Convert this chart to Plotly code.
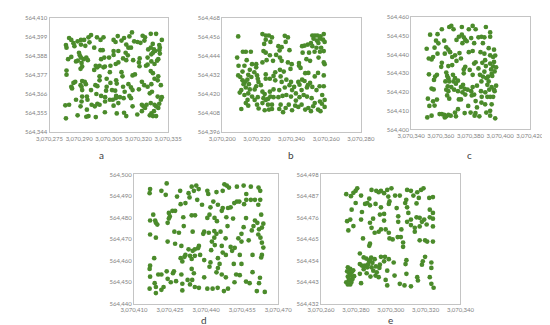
import plotly.graph_objects as go

# Coordinates are stored as offsets from these bases (easting, northing)
X_BASE = 3070000
Y_BASE = 564000

# ---------------- panel a ----------------
a_pts = [(284.9,398.4),(286.0,397.3),(290.9,397.3),(292.5,397.3),(294.7,398.8),(296.0,400.1),(299.0,398.8),(302.3,398.8),(300.8,397.3),(307.4,397.3),(308.4,396.1),(309.5,399.5),(312.7,398.4),(315.4,399.3),(316.7,401.6),(322.1,399.7),(323.3,398.8),(326.2,400.8),(328.9,400.8),(331.8,397.3),(319.5,396.1),(321.0,395.6),(317.8,396.5),(323.0,396.9),
(283.3,394.3),(283.6,392.8),(287.1,395.4),(287.6,393.7),(289.2,396.5),(290.9,394.6),(293.1,393.9),(295.2,395.9),(297.6,392.8),(311.4,396.9),(309.8,390.9),(307.4,390.9),(313.8,394.6),(314.9,392.8),(316.2,392.8),(327.2,395.0),(326.2,392.8),(330.5,394.3),(330.8,392.8),(324.9,391.8),(327.8,391.8),(330.5,391.4),(300.8,391.4),(301.9,391.4),
(284.4,386.2),(286.0,387.5),(288.4,384.9),(289.3,385.3),(289.9,389.9),(290.3,388.4),(290.9,387.1),(291.2,384.0),(293.6,387.1),(294.4,385.6),(292.3,386.2),(302.7,387.1),(301.1,386.2),(305.1,387.1),(307.4,388.6),(308.5,383.4),(309.8,384.3),(312.2,386.6),(313.5,389.9),(314.6,388.4),(313.8,385.6),(317.3,385.6),(320.6,386.6),(320.2,384.3),(324.6,387.1),(326.5,389.0),(327.3,389.9),(328.4,390.9),(330.8,389.4),(329.4,385.3),(328.1,383.4),(326.5,384.9),(323.8,382.4),(298.4,382.4),(300.3,382.4),(302.3,381.5),
(283.6,379.6),(283.6,377.2),(290.7,380.6),(291.5,381.9),(297.6,380.0),(299.2,381.5),(303.0,381.9),(305.8,382.4),(311.4,378.7),(311.9,376.3),(317.0,376.8),(318.2,377.4),(320.5,382.1),(324.6,383.0),(326.2,379.3),(327.3,378.1),(330.0,386.2),(330.0,376.3),(328.1,374.9),(329.7,374.0),(300.3,376.3),(300.3,374.0),(303.9,374.9),(305.5,378.7),(308.7,374.0),
(286.0,370.3),(286.4,369.3),(287.1,372.5),(288.0,373.1),(290.7,371.2),(291.5,373.6),(291.2,370.3),(292.8,373.1),(293.4,371.8),(291.5,368.4),(296.0,368.4),(298.2,371.2),(299.2,370.6),(298.7,366.1),(303.9,370.3),(305.8,372.5),(309.0,372.1),(306.6,368.4),(308.2,368.0),(308.7,365.0),(303.6,368.0),(312.2,370.3),(313.0,367.4),(314.9,371.8),(316.2,369.9),(317.0,368.4),(320.2,368.8),(321.7,373.1),(322.9,371.2),(324.6,370.3),(326.5,371.8),(326.8,367.4),(331.3,371.2),(331.8,364.3),(329.7,364.6),(325.7,366.5),(315.4,365.0),(310.6,364.3),(303.1,364.3),(301.1,365.0),(293.9,364.6),(291.5,364.6),(288.4,362.8),(291.2,361.8),(294.2,362.8),
(283.0,359.6),(284.9,359.9),(290.7,359.0),(293.9,357.1),(296.3,359.9),(299.2,360.5),(300.3,359.9),(297.9,359.0),(303.1,361.8),(305.5,362.8),(307.0,362.8),(308.5,363.7),(309.8,360.9),(312.5,363.7),(316.2,363.7),(317.0,359.0),(307.4,359.4),(321.7,359.9),(322.5,359.0),(326.2,360.9),(324.1,359.9),(323.3,358.1),(328.1,359.9),(328.9,359.0),(330.0,358.1),(331.3,362.8),(330.5,360.5),(327.8,356.2),(326.5,354.9),(327.3,353.4),(328.9,353.4),(325.7,353.8),(321.7,356.2),(319.4,354.3),(313.8,353.4),(312.7,355.3),(309.0,354.9),(303.0,355.6),(294.7,353.4),(293.6,353.0),(298.4,352.8),(289.2,353.8),(283.3,352.1)]

# ---------------- panel b ----------------
b_pts = [(209.2,456.3),(223.2,457.8),(225.1,456.9),(226.9,456.9),(228.7,455.7),(225.1,454.3),(227.8,452.9),(224.2,451.6),(236.1,456.7),(237.9,455.7),(232.4,450.2),(234.3,449.6),(233.1,447.5),(236.6,452.9),(238.8,447.7),(246.1,450.2),(247.6,450.6),(249.4,451.2),(252.0,456.9),(253.5,456.9),(255.0,456.9),(256.7,456.3),(258.6,457.8),(252.7,454.9),(254.6,453.7),(256.4,454.9),(258.2,454.3),(259.1,452.9),(255.5,452.2),(251.2,452.2),(252.0,450.2),(254.4,449.2),(257.1,449.2),(258.6,447.1),(256.4,446.7),(253.3,446.7),(250.1,446.1),(246.4,446.1),
(211.9,446.7),(213.6,446.7),(216.5,446.7),(208.6,443.0),(214.1,441.4),(223.8,447.1),(225.1,446.1),(227.5,444.5),(231.1,444.7),(233.3,443.0),(223.2,440.0),(225.6,441.4),(229.3,441.0),(234.3,441.0),(237.9,440.0),(240.1,438.9),(244.3,439.6),(248.6,442.0),(250.7,441.0),(258.6,440.0),(259.1,438.9),(255.6,443.0),
(209.4,437.9),(212.8,437.9),(217.2,438.9),(219.6,438.9),(219.6,436.9),(215.9,435.3),(218.5,433.8),(225.1,432.4),(230.6,433.8),(233.3,435.3),(235.5,434.2),(239.4,435.9),(244.3,437.9),(245.2,436.5),(247.9,433.2),(249.7,433.4),(253.4,431.2),(255.3,433.4),(258.6,431.8),
(209.2,431.8),(210.4,430.8),(211.7,428.7),(213.1,427.7),(214.5,429.1),(212.3,426.3),(215.4,426.3),(213.6,424.2),(211.0,422.6),(210.1,421.0),(215.0,420.5),(212.8,419.5),(215.9,423.0),(220.1,431.8),(220.5,429.7),(220.9,427.7),(219.6,425.0),(218.7,423.0),(222.3,425.7),(225.1,429.7),(227.5,429.7),(229.6,431.5),(230.6,428.7),(233.7,431.2),(234.3,427.7),(237.0,429.1),(239.7,427.7),(238.8,425.7),(241.5,424.6),(236.1,424.2),(232.9,422.6),(229.6,423.0),(227.5,421.6),(224.5,420.1),(223.2,421.6),(243.9,427.7),(244.6,426.0),(246.1,429.1),(247.5,428.3),(249.4,425.7),(250.7,427.1),(252.0,424.6),(248.9,424.2),(254.4,422.6),(256.2,425.0),(258.6,425.0),(257.7,419.5),(259.1,416.4),(256.4,415.4),(253.4,414.4),(251.6,417.5),(248.9,418.5),(247.0,419.5),(244.6,418.1),(242.5,416.0),(239.7,418.5),(240.3,422.6),(237.0,419.5),(234.8,418.9),(232.4,418.1),(229.6,418.1),(227.8,418.5),(226.4,417.0),(223.8,417.5),(220.5,418.1),(218.7,416.4),(217.2,418.5),(214.6,416.4),(213.6,414.4),(215.0,412.8),(211.0,410.7),(220.1,413.4),(221.0,411.0),(223.2,414.4),(225.1,416.4),(226.4,413.4),(224.5,409.9),(227.0,410.3),(228.7,410.7),(228.7,413.4),(233.7,413.4),(232.9,410.7),(235.1,408.7),(236.6,411.3),(238.4,413.4),(240.3,409.9),(242.1,412.8),(243.9,412.0),(245.8,413.4),(247.9,410.3),(249.7,411.3),(251.2,409.3),(252.5,412.4),(255.3,410.3),(256.7,409.3),(259.1,412.0),(257.5,414.0),(242.5,420.5),(245.8,422.6),(211.7,434.2),(215.0,432.2),(216.8,430.8)]

# ---------------- panel c ----------------
c_pts = [(350.5,443.0),(350.9,406.4),(351.9,437.8),(353.8,437.3),(352.8,450.5),(351.3,416.4),(352.3,412.5),(352.0,429.4),(353.8,421.8),(355.2,421.3),(354.8,415.0),(355.8,412.7),(355.4,426.4),(356.2,428.2),(357.4,429.1),(354.8,438.6),(357.8,440.4),(355.8,443.6),(356.8,447.3),(358.4,445.9),(357.8,450.8),(360.7,453.4),(357.4,415.9),(353.8,407.3),(359.2,408.2),(360.7,408.2),(362.3,407.7),(363.7,407.0),(365.1,407.7),(366.7,407.3),(362.7,406.4),(369.6,409.0),(370.2,407.0),(371.6,410.8),
(362.3,447.3),(362.7,440.4),(363.7,443.8),(365.1,442.5),(365.7,454.6),(367.1,455.2),(368.6,453.4),(370.6,447.7),(372.2,449.4),(366.3,441.2),(367.7,438.6),(369.6,439.5),(370.6,436.5),(367.7,434.3),(365.1,433.8),(360.7,435.5),(360.3,433.4),(363.7,430.3),(364.3,428.5),(365.1,427.3),(365.7,425.6),(363.1,425.6),(364.7,423.0),(363.7,421.2),(365.1,420.4),(364.3,418.1),(365.7,416.4),(368.2,429.1),(368.6,425.6),(369.6,427.3),(370.2,424.4),(367.1,422.6),(369.0,421.2),(371.6,426.0),(372.2,416.0),(373.6,416.0),(371.6,420.4),(373.6,422.6),(375.0,423.8),(374.6,419.8),(376.1,421.6),(376.5,418.6),(378.1,421.2),(378.5,412.5),(376.1,408.7),(380.1,409.0),(383.4,408.7),(382.8,407.3),(386.0,407.0),(384.4,411.7),(387.4,414.3),(380.9,418.1),(380.5,420.4),(381.5,422.6),(382.5,418.6),(383.5,415.1),(384.4,423.3),
(375.5,432.0),(376.5,433.4),(375.5,429.9),(373.6,437.8),(372.6,440.7),(374.6,446.0),(374.2,450.5),(375.5,449.1),(376.5,447.7),(377.5,447.0),(374.2,454.6),(378.9,453.4),(381.5,455.2),(383.5,453.4),(380.5,448.7),(382.5,446.0),(381.5,441.8),(378.9,441.2),(382.5,435.1),(383.5,435.8),(379.5,431.7),(381.5,429.1),(385.4,432.5),(386.4,429.1),(387.4,425.6),(385.4,449.1),(387.4,449.4),(390.4,454.6),(389.4,449.1),(388.4,446.0),(386.8,441.2),(389.4,440.4),(388.0,435.5),(389.9,436.9),(390.4,433.8),(389.4,430.8),(388.4,428.2),(390.8,427.3),(391.9,428.2),(391.4,423.8),(390.0,419.8),(391.4,417.4),(387.6,417.4),(387.1,420.4),(389.9,413.4),(390.7,409.0),
(393.3,451.7),(393.3,449.4),(392.3,443.3),(393.3,439.5),(395.3,438.6),(393.3,435.1),(393.9,432.0),(394.3,429.6),(392.3,425.6),(392.7,421.2),(394.3,422.6),(395.9,421.2),(393.3,417.4),(394.3,413.4),(393.3,409.9),(393.3,407.3),(395.9,442.5),(396.7,439.4),(395.9,436.0),(395.3,433.6),(396.3,430.9),(397.3,433.1),(394.7,428.5),(397.3,423.3),(396.3,420.4),(395.3,417.4),(396.7,405.9)]

# ---------------- panel d ----------------
d_pts = [(416.7,493.2),(416.5,491.3),(421.4,492.4),(423.2,490.5),(423.6,495.8),(427.9,489.7),(429.2,492.4),(432.7,491.3),(434.0,494.3),(434.9,492.4),(435.9,494.8),(436.9,493.2),(433.1,489.3),(436.3,488.2),(440.5,492.4),(440.9,490.9),(444.3,491.8),(446.9,492.4),(447.6,495.4),(448.6,494.8),(449.5,493.9),(452.8,494.3),(455.6,494.8),(458.6,494.3),(461.8,493.9),(462.5,492.4),(456.7,490.9),(460.3,488.2),(458.6,488.2),(456.7,488.2),(462.5,488.2),(461.7,485.9),(455.8,486.2),(452.8,487.4),(453.8,487.4),(451.7,486.7),(450.2,484.7),(449.1,484.4),(446.9,484.4),(446.5,483.1),(444.9,485.9),(443.0,487.4),(441.8,484.7),(441.4,481.3),(440.5,479.8),(438.3,485.9),(431.4,486.7),(429.4,486.2),(434.0,481.0),(435.4,481.0),
(418.0,481.3),(416.7,478.6),(418.8,478.6),(419.1,477.5),(419.7,476.7),(424.5,482.1),(426.0,483.1),(427.1,483.1),(424.9,480.5),(424.5,479.5),(424.0,477.5),(430.5,480.1),(424.0,468.8),(427.1,467.8),(426.8,473.4),(428.7,472.9),(430.7,476.0),(434.4,473.4),(416.7,472.1),(419.1,470.6),(429.7,466.8),(432.7,465.2),(434.4,464.5),(435.3,465.2),(436.6,465.7),(437.0,466.8),(439.2,473.4),(438.8,472.4),(441.1,472.9),(443.4,473.7),(444.3,472.4),(443.5,479.8),(444.5,478.3),(448.4,480.1),(451.2,479.5),(448.9,476.0),(446.0,473.4),(443.4,470.6),(442.4,468.8),(442.1,464.8),(443.6,467.2),(446.5,466.8),(448.1,470.3),(450.2,466.3),(450.8,464.5),(451.9,465.9),(453.4,470.3),(454.7,468.8),(454.7,472.4),(455.6,475.5),(456.6,479.7),(460.3,478.6),(459.7,476.0),(459.0,474.0),(461.3,477.5),(462.0,474.5),(463.2,475.3),(463.8,477.1),(462.9,481.3),(461.7,472.1),(462.6,470.6),(463.2,468.3),(463.8,466.0),(457.7,469.4),
(459.3,462.6),(463.2,462.6),(462.9,461.4),(454.0,462.6),(454.7,458.4),(451.5,458.4),(448.2,462.6),(446.9,463.7),(445.6,458.4),(444.9,461.1),(441.8,459.1),(441.4,457.1),(439.2,460.2),(437.5,462.6),(435.3,462.2),(434.0,460.7),(433.3,462.2),(431.0,461.7),(429.4,461.1),(431.4,462.6),(430.1,459.6),(434.0,456.1),(434.9,454.1),(434.2,451.0),(432.3,451.0),(429.7,453.5),(426.6,455.0),(426.2,454.1),(424.0,451.5),(423.6,455.0),(420.1,453.5),(421.4,453.5),(418.6,449.5),(416.7,452.5),(416.7,457.6),(416.5,456.1),(418.4,461.1),(416.5,446.9),(419.1,447.7),(419.1,444.9),(421.4,446.4),(422.3,447.7),(425.3,449.9),(427.5,450.4),(430.1,446.1),(430.1,449.2),(433.3,448.9),(435.3,447.7),(437.0,447.3),(439.2,452.2),(440.5,446.9),(442.7,446.9),(444.3,454.5),(444.9,456.5),(446.5,453.5),(448.2,452.2),(449.1,446.9),(447.4,445.8),(444.8,447.3),(451.8,449.9),(452.5,453.5),(454.0,453.2),(456.6,450.2),(458.1,449.5),(459.3,454.6),(461.1,445.8),(462.0,449.5),(462.4,452.0),(464.4,445.4)]

# ---------------- panel e ----------------
e_pts = [(274.5,487.9),(277.2,486.9),(278.6,488.6),(279.9,489.6),(280.8,490.9),(283.0,487.2),(279.9,483.4),(277.6,480.0),(275.0,474.1),(276.8,474.9),(275.7,469.4),(278.6,471.6),(283.5,478.8),(283.0,474.9),(285.3,482.9),(286.6,483.4),(288.1,482.2),(287.7,485.6),(289.0,490.1),(291.7,489.6),(293.1,488.9),(294.4,489.6),(296.2,488.4),(298.0,490.1),(300.4,490.9),(298.6,486.7),(299.3,484.2),(298.9,482.9),(294.4,481.2),(291.3,482.9),(289.9,475.4),(288.1,473.3),(289.0,470.7),(290.8,468.2),(284.1,465.3),(288.1,462.6),(287.7,461.5),(293.1,468.7),(294.4,469.9),(297.1,469.9),(293.8,477.5),(296.2,477.8),(296.2,474.4),(298.9,468.2),(299.3,465.3),(301.1,464.8),(303.4,480.8),(304.3,476.6),(302.5,487.2),(305.2,487.2),(304.3,473.8),(306.1,469.9),(304.0,466.0),(305.8,466.0),(307.1,463.2),(307.1,461.0),(309.4,490.1),(311.6,489.6),(308.9,485.0),(308.3,483.4),(309.4,481.2),(310.1,478.3),(311.6,474.9),(309.4,473.8),(311.6,472.1),(313.8,470.7),(313.8,468.7),(313.0,487.2),(315.2,488.9),(317.4,490.1),(318.8,490.9),(316.1,486.0),(314.8,483.2),(314.8,476.1),(316.6,475.8),(317.9,473.8),(316.6,471.4),(319.2,474.9),(320.6,472.4),(322.1,486.0),(324.2,486.4),(322.4,480.0),(324.2,478.3),(322.4,476.1),(324.2,475.4),(324.2,471.4),(319.7,464.3),(316.6,464.3),(320.9,463.7),(324.2,463.7),
(282.3,457.6),(282.3,452.2),(283.5,451.4),(285.3,451.4),(287.7,453.6),(288.1,454.2),(286.6,450.5),(289.0,450.5),(284.5,449.6),(282.3,447.2),(286.2,447.5),(288.4,445.8),(283.0,442.4),(275.4,450.5),(276.8,449.7),(276.3,447.5),(277.6,448.0),(275.4,445.8),(278.1,444.6),(276.3,443.8),(274.5,442.9),(276.8,441.8),(275.4,441.8),(277.0,446.5),(278.5,449.0),(275.0,448.5),(277.5,443.0),(279.0,446.0),(276.0,444.6),(287.0,452.0),(289.5,452.8),(288.8,455.5),(286.0,455.0),(291.5,451.0),(284.5,455.6),(290.0,448.8),(292.0,448.0),
(290.8,454.7),(293.5,450.2),(291.3,446.3),(293.1,445.5),(294.4,455.9),(296.7,455.9),(296.2,453.6),(293.8,451.9),(298.9,454.7),(298.0,448.8),(297.1,444.1),(298.0,441.3),(302.2,446.3),(301.7,453.0),(305.2,442.1),(307.9,441.3),(311.6,440.8),(309.0,447.2),(308.5,452.2),(309.0,454.2),(315.2,445.5),(315.6,443.8),(317.9,451.9),(318.4,453.6),(319.7,455.9),(323.3,453.0),(323.3,450.2),(322.4,445.5),(323.3,442.1),(324.6,440.1)]

# axis tick values (full coordinates)
a_xticks = [3070275, 3070290, 3070305, 3070320, 3070335]
a_yticks = [564344, 564355, 564366, 564377, 564388, 564399, 564410]
b_xticks = [3070200, 3070220, 3070240, 3070260, 3070280]
b_yticks = [564396, 564408, 564420, 564432, 564444, 564456, 564468]
c_xticks = [3070340, 3070360, 3070380, 3070400, 3070420]
c_yticks = [564400, 564410, 564420, 564430, 564440, 564450, 564460]
d_xticks = [3070410, 3070425, 3070440, 3070455, 3070470]
d_yticks = [564440, 564450, 564460, 564470, 564480, 564490, 564500]
e_xticks = [3070260, 3070280, 3070300, 3070320, 3070340]
e_yticks = [564432, 564443, 564454, 564465, 564476, 564487, 564498]
panel_labels = ["a", "b", "c", "d", "e"]

panels = [
    (a_pts, a_xticks, a_yticks, [29, 154, 6, 123], 84, 146),
    (b_pts, b_xticks, b_yticks, [211, 357, 6, 123], 283, 146),
    (c_pts, c_xticks, c_yticks, [410, 535, 5, 120], 471, 146),
    (d_pts, d_xticks, d_yticks, [118, 270, 166, 298], 192, 315),
    (e_pts, e_xticks, e_yticks, [315, 462, 166, 298], 388, 315),
]

W, H = 550, 325
GREEN = "#4b8b2b"
TICK_FONT = dict(family="Lato, Carlito, Liberation Sans", size=6, color="#7f7f7f")

fig = go.Figure()
layout = dict(width=W, height=H, margin=dict(l=0, r=0, t=0, b=0),
              paper_bgcolor="white", plot_bgcolor="white", showlegend=False)
annotations = []
for i, (pts, xt, yt, box, lx, ly) in enumerate(panels):
    n = "" if i == 0 else str(i + 1)
    xs = [X_BASE + p[0] for p in pts]
    ys = [Y_BASE + p[1] for p in pts]
    fig.add_trace(go.Scatter(x=xs, y=ys, mode="markers", xaxis="x" + n, yaxis="y" + n,
                             marker=dict(size=4.7, color=GREEN, line=dict(width=0)),
                             hoverinfo="skip"))
    x0, x1, y0, y1 = box
    common = dict(showgrid=False, zeroline=False, showline=True, mirror=True,
                  linecolor="#c4c4c4", linewidth=1, ticks="", tickfont=TICK_FONT,
                  tickformat=",d", tickangle=0, fixedrange=True)
    layout["xaxis" + n] = dict(common, domain=[x0 / W, x1 / W], anchor="y" + n,
                               range=[xt[0], xt[-1]], tickvals=xt)
    layout["yaxis" + n] = dict(common, domain=[1 - y1 / H, 1 - y0 / H], anchor="x" + n,
                               range=[yt[0], yt[-1]], tickvals=yt)
    annotations.append(dict(text=panel_labels[i], x=lx / W, y=1 - ly / H, xref="paper",
                            yref="paper", showarrow=False, xanchor="center", yanchor="middle",
                            font=dict(family="Lato, Carlito, Liberation Sans", size=10,
                                      color="#404040")))
layout["annotations"] = annotations
fig.update_layout(**layout)
fig.write_html("out.html")
